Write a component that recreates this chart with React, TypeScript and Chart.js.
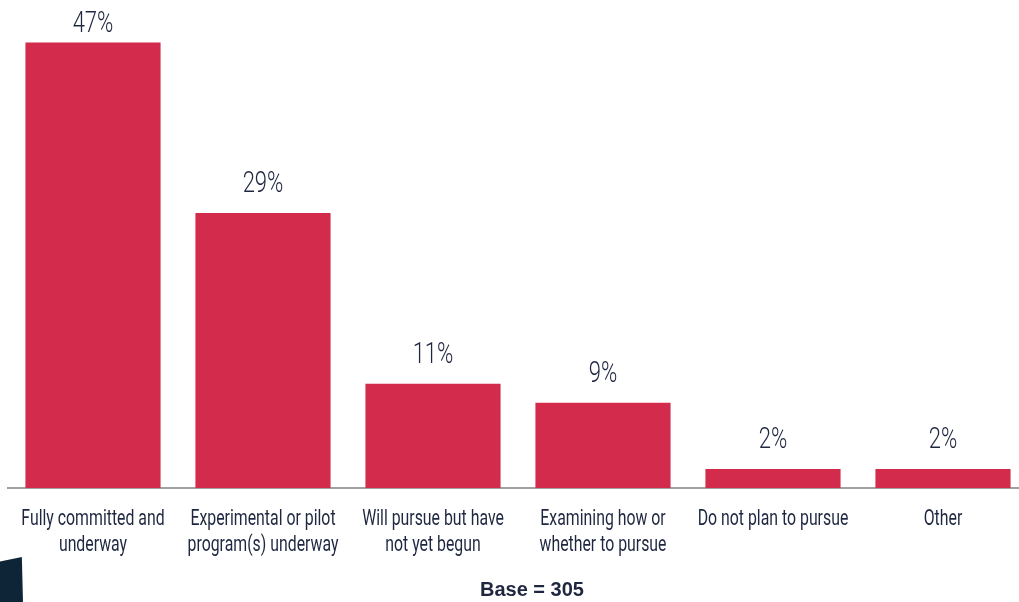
import React, { useEffect, useRef } from "react";
import { Chart, registerables } from "chart.js";

Chart.register(...registerables);

const categories: string[][] = [
  ["Fully committed and", "underway"],
  ["Experimental or pilot", "program(s) underway"],
  ["Will pursue but have", "not yet begun"],
  ["Examining how or", "whether to pursue"],
  ["Do not plan to pursue"],
  ["Other"],
];
const values: number[] = [47, 29, 11, 9, 2, 2];
const valueLabels: string[] = ["47%", "29%", "11%", "9%", "2%", "2%"];
const baseNote = "Base = 305";

const BAR_COLOR = "#d22b4b";
const TEXT_COLOR = "#1f2740";
const FONT = "Roboto, 'DejaVu Sans', sans-serif";

function drawNarrow(ctx: CanvasRenderingContext2D, text: string, x: number, y: number, sx: number) {
  ctx.save();
  ctx.translate(x, y);
  ctx.scale(sx, 1);
  ctx.fillText(text, 0, 0);
  ctx.restore();
}

const labelPlugin = {
  id: "narrowLabels",
  afterDatasetsDraw(chart: any) {
    const ctx: CanvasRenderingContext2D = chart.ctx;
    const meta = chart.getDatasetMeta(0);
    const xScale = chart.scales.x;
    const bottom = chart.chartArea.bottom;
    ctx.save();
    ctx.fillStyle = TEXT_COLOR;
    ctx.textAlign = "center";
    ctx.textBaseline = "alphabetic";
    ctx.font = `300 29px ${FONT}`;
    meta.data.forEach((bar: any, i: number) => {
      const y = Math.max(bar.y - 21, 32);
      drawNarrow(ctx, valueLabels[i], bar.x, y, 0.76);
    });
    ctx.font = `400 22px ${FONT}`;
    categories.forEach((lines, i) => {
      const x = xScale.getPixelForTick(i);
      lines.forEach((line, j) => {
        drawNarrow(ctx, line, x, bottom + 37 + j * 26, 0.72);
      });
    });
    ctx.restore();
  },
};

export default function App() {
  const ref = useRef<HTMLCanvasElement | null>(null);
  useEffect(() => {
    if (!ref.current) return;
    const chart = new Chart(ref.current, {
      type: "bar",
      data: {
        labels: categories,
        datasets: [
          {
            data: values,
            backgroundColor: BAR_COLOR,
            borderWidth: 0,
            categoryPercentage: 1,
            barPercentage: 0.795,
          },
        ],
      },
      options: {
        responsive: false,
        animation: false,
        layout: { padding: { top: 14, left: 8, right: 8, bottom: 114 } },
        plugins: {
          legend: { display: false },
          tooltip: { enabled: false },
        },
        scales: {
          x: {
            grid: { display: false, drawTicks: false },
            border: { display: true, color: "#a0a0a0", width: 2 },
            ticks: { display: false },
          },
          y: {
            display: false,
            min: 0,
            max: 50,
          },
        },
      },
      plugins: [labelPlugin],
    });
    return () => chart.destroy();
  }, []);

  return (
    <div
      style={{
        position: "absolute",
        left: 0,
        top: 0,
        width: 1019,
        height: 602,
        overflow: "hidden",
        background: "#ffffff",
      }}
    >
      <canvas
        ref={ref}
        width={1036}
        height={602}
        style={{ position: "absolute", left: 0, top: 0, width: 1036, height: 602 }}
      />
      <div
        style={{
          position: "absolute",
          left: 432,
          width: 200,
          top: 576,
          textAlign: "center",
          fontFamily: "'Liberation Sans', Arial, sans-serif",
          fontWeight: "bold",
          fontSize: 20,
          lineHeight: "26px",
          color: TEXT_COLOR,
        }}
      >
        {baseNote}
      </div>
      <div
        style={{
          position: "absolute",
          left: 0,
          top: 557,
          width: 23,
          height: 45,
          background: "#0e2538",
          clipPath: "polygon(0 10%, 95% 0, 100% 100%, 0 100%)",
        }}
      />
    </div>
  );
}
